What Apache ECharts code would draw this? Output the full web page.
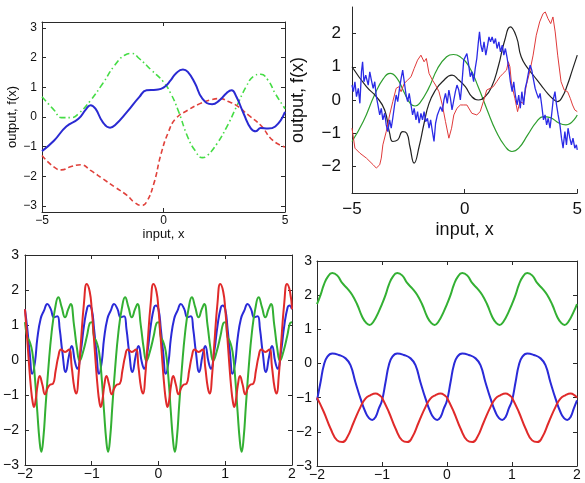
<!DOCTYPE html>
<html>
<head>
<meta charset="utf-8">
<title>GP samples</title>
<script src="https://cdn.jsdelivr.net/npm/echarts@6/dist/echarts.min.js"></script>
<style>
  html, body { margin: 0; padding: 0; background: #fff; }
  #main { width: 585px; height: 483px; }
</style>
</head>
<body>
<div id="main"></div>
<script>
// ---------- panel 1 (top left) ----------
var p1Ticks = [-3, -2, -1, 0, 1, 2, 3];
var p1BlueX = [-5,-4.5,-4,-3.5,-3.2,-3,-2.8,-2.5,-2.2,-2,-1.5,-1,-0.7,-0.3,0,0.3,0.5,0.8,1,1.3,1.6,2,2.3,2.6,2.8,3,3.3,3.6,3.8,4,4.3,4.6,5];
var p1BlueY = [-1.15,-0.79,-0.32,-0.06,0.25,0.4,0.28,-0.17,-0.36,-0.28,0.17,0.67,0.9,0.92,0.99,1.24,1.46,1.6,1.52,1.13,0.62,0.43,0.56,0.81,0.9,0.68,0.11,-0.39,-0.48,-0.37,-0.39,-0.32,0.17];
var p1GreenX = [-5,-4.5,-4.2,-3.8,-3.5,-3,-2.5,-2,-1.6,-1.3,-1,-0.5,0,0.3,0.6,1,1.3,1.6,1.8,2.2,2.6,3,3.4,3.7,4,4.3,4.6,5];
var p1GreenY = [0.68,0.23,-0.02,-0.02,0.11,0.56,1.13,1.75,2.08,2.14,1.97,1.58,1.18,0.79,0.23,-0.68,-1.13,-1.37,-1.3,-0.9,-0.34,0.34,1.02,1.37,1.44,1.24,0.79,0.28];
var p1RedX = [-5,-4.5,-4.2,-3.8,-3.4,-3,-2.5,-2,-1.5,-1.2,-0.9,-0.7,-0.4,-0.1,0.2,0.5,1,1.5,2,2.3,2.7,3,3.5,4,4.5,5];
var p1RedY = [-1.3,-1.69,-1.78,-1.67,-1.61,-1.8,-2.08,-2.36,-2.64,-2.87,-2.98,-2.87,-2.25,-1.24,-0.51,-0.06,0.23,0.45,0.59,0.62,0.51,0.39,0.06,-0.28,-0.79,-1.01];

// ---------- panel 2 (top right) ----------
var p2Ticks = [-2, -1, 0, 1, 2];
var p2GreenX = [-5,-4.5,-4,-3.6,-3.3,-3,-2.7,-2.4,-2.2,-2,-1.6,-1.2,-0.8,-0.5,-0.2,0.2,0.6,1,1.4,1.8,2.1,2.4,2.8,3.2,3.5,3.8,4.2,4.5,5];
var p2GreenY = [-1.25,-0.65,0.15,0.65,0.8,0.65,0.25,-0.12,-0.18,-0.1,0.35,0.95,1.3,1.37,1.3,1.0,0.4,-0.3,-0.95,-1.4,-1.55,-1.45,-1.05,-0.65,-0.5,-0.53,-0.7,-0.75,-0.45];
var p2BlackX = [-5,-4.36,-3.92,-3.55,-3.33,-3.19,-2.97,-2.75,-2.57,-2.43,-2.24,-2.02,-1.8,-1.58,-1.29,-0.99,-0.56,-0.26,0.03,0.32,0.61,0.91,1.2,1.49,1.78,2.03,2.3,2.51,2.81,3.1,3.39,3.68,3.98,4.12,4.34,4.56,4.78,5];
var p2BlackY = [1.0,0.4,0.1,-0.3,-1.0,-1.25,-1.2,-0.95,-1.0,-1.4,-1.9,-1.4,-0.7,-0.1,0.3,0.55,0.75,0.6,0.4,0.1,0.0,0.1,0.4,1.0,1.8,2.2,1.9,1.3,0.95,0.7,0.45,0.2,0.0,-0.05,0.1,0.45,0.9,1.35];
var p2RedX = [-5,-4.87,-4.65,-4.36,-4.06,-3.92,-3.77,-3.7,-3.63,-3.48,-3.33,-3.19,-3.04,-2.92,-2.82,-2.68,-2.53,-2.38,-2.24,-2.09,-1.94,-1.8,-1.7,-1.58,-1.43,-1.29,-1.14,-0.99,-0.85,-0.7,-0.58,-0.48,-0.34,-0.19,-0.04,0.1,0.32,0.54,0.69,0.83,0.98,1.13,1.27,1.42,1.57,1.71,1.86,1.94,2.01,2.08,2.23,2.35,2.45,2.6,2.74,2.89,3.04,3.18,3.33,3.48,3.58,3.7,3.82,3.92,4.02,4.13,4.28,4.42,4.57,4.69,4.79,4.89,5];
var p2RedY = [-0.85,-1.45,-1.6,-1.75,-1.95,-2.05,-1.95,-1.75,-1.35,-0.95,-0.45,-0.05,0.35,0.4,0.25,0.5,0.6,0.7,0.95,1.2,1.35,1.15,1.25,0.8,0.6,0.45,0.25,-0.15,-0.65,-1.15,-0.85,-0.45,-0.25,-0.15,-0.15,-0.15,-0.4,-0.45,-0.35,-0.05,0.3,0.35,0.4,0.55,0.7,0.8,0.9,1.15,1.0,0.5,0.05,-0.35,-0.05,-0.1,0.45,0.85,1.35,1.95,2.35,2.6,2.65,2.45,2.3,2.5,2.05,1.35,0.55,0.3,0.25,0.05,-0.15,-0.3,-0.35];
var p2BlueX = [-5,-4.94,-4.87,-4.8,-4.72,-4.65,-4.58,-4.53,-4.47,-4.39,-4.28,-4.21,-4.14,-4.06,-3.99,-3.92,-3.85,-3.77,-3.7,-3.63,-3.55,-3.48,-3.41,-3.33,-3.26,-3.19,-3.11,-3.04,-2.97,-2.89,-2.82,-2.75,-2.68,-2.6,-2.53,-2.46,-2.38,-2.31,-2.24,-2.16,-2.09,-2.02,-1.94,-1.87,-1.8,-1.73,-1.65,-1.58,-1.51,-1.43,-1.36,-1.29,-1.21,-1.14,-1.07,-0.99,-0.92,-0.85,-0.77,-0.7,-0.63,-0.56,-0.48,-0.41,-0.34,-0.26,-0.19,-0.12,-0.04,0.03,0.1,0.18,0.25,0.32,0.4,0.47,0.54,0.61,0.66,0.72,0.79,0.86,0.94,1.02,1.08,1.15,1.22,1.3,1.37,1.44,1.52,1.59,1.67,1.74,1.81,1.89,1.96,2.03,2.11,2.18,2.25,2.33,2.4,2.47,2.54,2.62,2.69,2.76,2.84,2.91,2.98,3.06,3.13,3.2,3.28,3.35,3.42,3.5,3.57,3.64,3.71,3.79,3.86,3.93,4.01,4.08,4.15,4.23,4.3,4.37,4.45,4.52,4.59,4.67,4.74,4.81,4.89,4.96,5];
var p2BlueY = [0.45,0.25,0.55,0.1,0.35,-0.1,0.85,1.15,0.55,0.75,0.45,0.85,0.6,0.35,0.55,0.1,-0.15,-0.45,-0.25,-0.6,-0.4,-0.75,-0.95,-0.6,-0.85,-0.55,-0.15,0.15,-0.05,0.35,0.65,0.9,0.55,0.15,-0.05,0.2,-0.15,-0.45,-0.25,-0.6,-0.35,-0.7,-0.4,-0.6,-0.35,-0.65,-0.55,-0.85,-0.6,-0.95,-1.25,-0.7,-0.45,-0.5,-0.2,-0.35,0.0,0.2,-0.1,0.3,0.05,-0.3,0.0,0.25,0.45,0.3,0.0,0.5,1.2,1.25,1.4,1.05,0.7,0.85,0.55,0.95,1.25,1.75,2.05,1.65,1.45,1.75,1.35,1.65,1.9,1.75,1.9,1.7,1.85,1.55,1.75,1.45,1.65,1.35,1.55,1.25,0.95,0.55,0.25,0.55,0.15,-0.15,0.15,-0.25,0.25,-0.15,0.35,0.55,0.85,1.05,0.9,0.6,0.35,0.2,0.05,0.2,-0.15,-0.6,-0.45,-0.75,-0.55,-0.85,-0.45,0.0,0.25,-0.15,-0.45,-0.75,-1.15,-1.45,-0.95,-1.35,-0.85,-1.15,-1.35,-1.15,-1.45,-1.35,-1.5];

// ---------- panel 3 (bottom left) ----------
var p3RedX = [-2,-1.97,-1.94,-1.91,-1.885,-1.865,-1.84,-1.81,-1.78,-1.74,-1.7,-1.66,-1.62,-1.58,-1.54,-1.5,-1.46,-1.4,-1.34,-1.3,-1.26,-1.23,-1.2,-1.165,-1.115,-1.075,-1.03,
  -1,-0.97,-0.94,-0.91,-0.885,-0.865,-0.84,-0.81,-0.78,-0.74,-0.7,-0.66,-0.62,-0.58,-0.54,-0.5,-0.46,-0.4,-0.34,-0.3,-0.26,-0.23,-0.2,-0.165,-0.115,-0.075,-0.03,
  0,0.03,0.06,0.09,0.115,0.135,0.16,0.19,0.22,0.26,0.3,0.34,0.38,0.42,0.46,0.5,0.54,0.6,0.66,0.7,0.74,0.77,0.8,0.835,0.885,0.925,0.97,
  1,1.03,1.06,1.09,1.115,1.135,1.16,1.19,1.22,1.26,1.3,1.34,1.38,1.42,1.46,1.5,1.54,1.6,1.66,1.7,1.74,1.77,1.8,1.835,1.885,1.925,1.97,2];
var p3RedY = [1.45,0.7,-0.1,-0.8,-1.2,-1.34,-1.15,-0.7,-0.46,-0.7,-0.98,-0.8,-0.7,-0.68,-0.3,0.1,0.3,0.23,0.3,-0.2,-0.8,-0.96,-0.5,0.42,1.65,2.17,1.95,
  1.45,0.7,-0.1,-0.8,-1.2,-1.34,-1.15,-0.7,-0.46,-0.7,-0.98,-0.8,-0.7,-0.68,-0.3,0.1,0.3,0.23,0.3,-0.2,-0.8,-0.96,-0.5,0.42,1.65,2.17,1.95,
  1.45,0.7,-0.1,-0.8,-1.2,-1.34,-1.15,-0.7,-0.46,-0.7,-0.98,-0.8,-0.7,-0.68,-0.3,0.1,0.3,0.23,0.3,-0.2,-0.8,-0.96,-0.5,0.42,1.65,2.17,1.95,
  1.45,0.7,-0.1,-0.8,-1.2,-1.34,-1.15,-0.7,-0.46,-0.7,-0.98,-0.8,-0.7,-0.68,-0.3,0.1,0.3,0.23,0.3,-0.2,-0.8,-0.96,-0.5,0.42,1.65,2.17,1.95,1.45];
var p3BlueX = [-2,-1.965,-1.93,-1.89,-1.85,-1.815,-1.765,-1.715,-1.665,-1.615,-1.565,-1.515,-1.48,-1.44,-1.39,-1.34,-1.3,-1.25,-1.215,-1.165,-1.115,-1.065,-1.04,
  -1,-0.965,-0.93,-0.89,-0.85,-0.815,-0.765,-0.715,-0.665,-0.615,-0.565,-0.515,-0.48,-0.44,-0.39,-0.34,-0.3,-0.25,-0.215,-0.165,-0.115,-0.065,-0.04,
  0,0.035,0.07,0.11,0.15,0.185,0.235,0.285,0.335,0.385,0.435,0.485,0.52,0.56,0.61,0.66,0.7,0.75,0.785,0.835,0.885,0.935,0.96,
  1,1.035,1.07,1.11,1.15,1.185,1.235,1.285,1.335,1.385,1.435,1.485,1.52,1.56,1.61,1.66,1.7,1.75,1.785,1.835,1.885,1.935,1.96,2];
var p3BlueY = [1.45,0.89,0.23,-0.39,-0.06,0.61,1.18,1.41,1.6,1.46,1.22,1.25,0.89,0.23,-0.34,0.13,0.4,-0.06,-0.25,0.23,0.99,1.51,1.56,
  1.45,0.89,0.23,-0.39,-0.06,0.61,1.18,1.41,1.6,1.46,1.22,1.25,0.89,0.23,-0.34,0.13,0.4,-0.06,-0.25,0.23,0.99,1.51,1.56,
  1.45,0.89,0.23,-0.39,-0.06,0.61,1.18,1.41,1.6,1.46,1.22,1.25,0.89,0.23,-0.34,0.13,0.4,-0.06,-0.25,0.23,0.99,1.51,1.56,
  1.45,0.89,0.23,-0.39,-0.06,0.61,1.18,1.41,1.6,1.46,1.22,1.25,0.89,0.23,-0.34,0.13,0.4,-0.06,-0.25,0.23,0.99,1.51,1.56,1.45];
var p3GreenX = [-2,-1.965,-1.93,-1.89,-1.85,-1.815,-1.78,-1.755,-1.725,-1.69,-1.65,-1.6,-1.55,-1.5,-1.45,-1.4,-1.35,-1.315,-1.265,-1.22,-1.18,-1.13,-1.07,-1.03,
  -1,-0.965,-0.93,-0.89,-0.85,-0.815,-0.78,-0.755,-0.725,-0.69,-0.65,-0.6,-0.55,-0.5,-0.45,-0.4,-0.35,-0.315,-0.265,-0.22,-0.18,-0.13,-0.07,-0.03,
  0,0.035,0.07,0.11,0.15,0.185,0.22,0.245,0.275,0.31,0.35,0.4,0.45,0.5,0.55,0.6,0.65,0.685,0.735,0.78,0.82,0.87,0.93,0.97,
  1,1.035,1.07,1.11,1.15,1.185,1.22,1.245,1.275,1.31,1.35,1.4,1.45,1.5,1.55,1.6,1.65,1.685,1.735,1.78,1.82,1.87,1.93,1.97,2];
var p3GreenY = [1.08,0.66,0.53,0.23,-0.53,-1.48,-2.34,-2.62,-2.24,-1.29,-0.25,0.8,1.46,1.79,1.51,1.22,1.46,1.6,0.99,0.32,-0.02,0.23,0.7,1.05,
  1.08,0.66,0.53,0.23,-0.53,-1.48,-2.34,-2.62,-2.24,-1.29,-0.25,0.8,1.46,1.79,1.51,1.22,1.46,1.6,0.99,0.32,-0.02,0.23,0.7,1.05,
  1.08,0.66,0.53,0.23,-0.53,-1.48,-2.34,-2.62,-2.24,-1.29,-0.25,0.8,1.46,1.79,1.51,1.22,1.46,1.6,0.99,0.32,-0.02,0.23,0.7,1.05,
  1.08,0.66,0.53,0.23,-0.53,-1.48,-2.34,-2.62,-2.24,-1.29,-0.25,0.8,1.46,1.79,1.51,1.22,1.46,1.6,0.99,0.32,-0.02,0.23,0.7,1.05,1.08];

// ---------- panel 4 (bottom right) ----------
var p4GreenX = [-2,-1.945,-1.895,-1.84,-1.765,-1.69,-1.61,-1.535,-1.46,-1.38,-1.305,-1.24,-1.19,-1.13,-1.05,
  -1,-0.945,-0.895,-0.84,-0.765,-0.69,-0.61,-0.535,-0.46,-0.38,-0.305,-0.24,-0.19,-0.13,-0.05,
  0,0.055,0.105,0.16,0.235,0.31,0.39,0.465,0.54,0.62,0.695,0.76,0.81,0.87,0.95,
  1,1.055,1.105,1.16,1.235,1.31,1.39,1.465,1.54,1.62,1.695,1.76,1.81,1.87,1.95,2];
var p4GreenY = [1.74,2.01,2.3,2.52,2.65,2.58,2.35,2.2,2.01,1.72,1.37,1.18,1.13,1.23,1.52,
  1.74,2.01,2.3,2.52,2.65,2.58,2.35,2.2,2.01,1.72,1.37,1.18,1.13,1.23,1.52,
  1.74,2.01,2.3,2.52,2.65,2.58,2.35,2.2,2.01,1.72,1.37,1.18,1.13,1.23,1.52,
  1.74,2.01,2.3,2.52,2.65,2.58,2.35,2.2,2.01,1.72,1.37,1.18,1.13,1.23,1.52,1.74];
var p4BlueX = [-2,-1.945,-1.895,-1.84,-1.765,-1.665,-1.56,-1.485,-1.41,-1.33,-1.255,-1.2,-1.15,-1.1,-1.05,
  -1,-0.945,-0.895,-0.84,-0.765,-0.665,-0.56,-0.485,-0.41,-0.33,-0.255,-0.2,-0.15,-0.1,-0.05,
  0,0.055,0.105,0.16,0.235,0.335,0.44,0.515,0.59,0.67,0.745,0.8,0.85,0.9,0.95,
  1,1.055,1.105,1.16,1.235,1.335,1.44,1.515,1.59,1.67,1.745,1.8,1.85,1.9,1.95,2];
var p4BlueY = [-1.08,-0.54,-0.05,0.2,0.29,0.25,0.15,-0.05,-0.54,-1.03,-1.42,-1.6,-1.65,-1.57,-1.32,
  -1.08,-0.54,-0.05,0.2,0.29,0.25,0.15,-0.05,-0.54,-1.03,-1.42,-1.6,-1.65,-1.57,-1.32,
  -1.08,-0.54,-0.05,0.2,0.29,0.25,0.15,-0.05,-0.54,-1.03,-1.42,-1.6,-1.65,-1.57,-1.32,
  -1.08,-0.54,-0.05,0.2,0.29,0.25,0.15,-0.05,-0.54,-1.03,-1.42,-1.6,-1.65,-1.57,-1.32,-1.08];
var p4RedX = [-2,-1.895,-1.79,-1.69,-1.61,-1.535,-1.435,-1.33,-1.255,-1.18,-1.1,-1.025,
  -1,-0.895,-0.79,-0.69,-0.61,-0.535,-0.435,-0.33,-0.255,-0.18,-0.1,-0.025,
  0,0.105,0.21,0.31,0.39,0.465,0.565,0.67,0.745,0.82,0.9,0.975,
  1,1.105,1.21,1.31,1.39,1.465,1.565,1.67,1.745,1.82,1.9,1.975,2];
var p4RedY = [-1.0,-1.42,-1.91,-2.25,-2.3,-2.16,-1.72,-1.27,-1.03,-0.93,-0.88,-0.95,
  -1.0,-1.42,-1.91,-2.25,-2.3,-2.16,-1.72,-1.27,-1.03,-0.93,-0.88,-0.95,
  -1.0,-1.42,-1.91,-2.25,-2.3,-2.16,-1.72,-1.27,-1.03,-0.93,-0.88,-0.95,
  -1.0,-1.42,-1.91,-2.25,-2.3,-2.16,-1.72,-1.27,-1.03,-0.93,-0.88,-0.95,-1.0];

var FONT = 'Liberation Sans, Arial, Helvetica, sans-serif';
var AX = '#2a2a2a';

function pts(xs, ys) {
    return xs.map(function (x, i) { return [x, ys[i]]; });
}
function minus(v) {
    return String(v).replace('-', '\u2212');
}

// one axis; labels only on the bottom / left one
function axis(gi, pos, min, max, interval, ticks, font, margin) {
    var a = {
        gridIndex: gi, type: 'value', position: pos, min: min, max: max,
        axisLine: { show: true, onZero: false, lineStyle: { color: AX, width: 1 } },
        axisTick: { show: true, inside: true, length: 4, lineStyle: { color: AX } },
        axisLabel: { show: !!font, fontSize: font || 12, color: '#111', fontFamily: FONT, margin: margin || 4, formatter: minus },
        splitLine: { show: false }
    };
    if (interval) a.interval = interval;
    if (ticks) {
        a.axisTick.customValues = ticks;
        a.axisLabel.customValues = ticks;
    }
    return a;
}

function line(xi, yi, xs, ys, color, width, type, smooth) {
    return {
        type: 'line', xAxisIndex: xi, yAxisIndex: yi, data: pts(xs, ys),
        showSymbol: false, smooth: smooth, animation: false,
        lineStyle: { color: color, width: width, type: type || 'solid' }
    };
}

var xAxes = [], yAxes = [];

// panel 1
var x1 = axis(0, 'bottom', -5, 5, 5, null, 12, 3);
x1.name = 'input, x'; x1.nameLocation = 'middle'; x1.nameGap = 15;
x1.nameTextStyle = { fontSize: 13, color: '#111', fontFamily: FONT };
var y1 = axis(0, 'left', -3.2, 3.2, null, p1Ticks, 12, 5);
y1.name = 'output, f(x)'; y1.nameLocation = 'middle'; y1.nameGap = 20;
y1.nameTextStyle = { fontSize: 13, color: '#111', fontFamily: FONT };
xAxes.push(x1, axis(0, 'top', -5, 5, 5, null, 0));
yAxes.push(y1, axis(0, 'right', -3.2, 3.2, null, p1Ticks, 0));

// panel 2 (only left and bottom lines)
var x2 = axis(1, 'bottom', -5, 5, 5, null, 17, 8);
x2.name = 'input, x'; x2.nameLocation = 'middle'; x2.nameGap = 28;
x2.nameTextStyle = { fontSize: 18, color: '#111', fontFamily: FONT };
var y2 = axis(1, 'left', -2.8, 2.8, null, p2Ticks, 17, 11);
y2.name = 'output, f(x)'; y2.nameLocation = 'middle'; y2.nameGap = 45;
y2.nameTextStyle = { fontSize: 18, color: '#111', fontFamily: FONT };
xAxes.push(x2);
yAxes.push(y2);

// panel 3
xAxes.push(axis(2, 'bottom', -2, 2, 1, null, 14, 2), axis(2, 'top', -2, 2, 1, null, 0));
yAxes.push(axis(2, 'left', -3, 3, 1, null, 14, 6), axis(2, 'right', -3, 3, 1, null, 0));

// panel 4
xAxes.push(axis(3, 'bottom', -2, 2, 1, null, 14, 2), axis(3, 'top', -2, 2, 1, null, 0));
yAxes.push(axis(3, 'left', -3, 3, 1, null, 14, 5), axis(3, 'right', -3, 3, 1, null, 0));

var option = {
    animation: false,
    backgroundColor: '#fff',
    grid: [
        { left: 42, top: 22, width: 243, height: 190 },
        { left: 352, top: 7, width: 228, height: 186 },
        { left: 23, top: 255, width: 269, height: 210 },
        { left: 317, top: 261, width: 260, height: 205 }
    ],
    xAxis: xAxes,
    yAxis: yAxes,
    series: [
        line(0, 0, p1RedX, p1RedY, '#e0413b', 1.6, [5, 3], 0.5),
        line(0, 0, p1GreenX, p1GreenY, '#45dc45', 1.6, [6, 3, 1.5, 3], 0.5),
        line(0, 0, p1BlueX, p1BlueY, '#2a2ad2', 2, 'solid', 0.5),

        line(2, 2, p2GreenX, p2GreenY, '#2e9e2e', 1.2, 'solid', 0.5),
        line(2, 2, p2BlackX, p2BlackY, '#222222', 1.2, 'solid', 0.5),
        line(2, 2, p2RedX, p2RedY, '#e03a3a', 1, 'solid', false),
        line(2, 2, p2BlueX, p2BlueY, '#2a2ae6', 1.3, 'solid', false),

        line(3, 3, p3BlueX, p3BlueY, '#2a2ad8', 2, 'solid', 0.5),
        line(3, 3, p3GreenX, p3GreenY, '#33b033', 2, 'solid', 0.5),
        line(3, 3, p3RedX, p3RedY, '#e02a2a', 2, 'solid', 0.5),

        line(5, 5, p4GreenX, p4GreenY, '#33b033', 2, 'solid', 0.5),
        line(5, 5, p4BlueX, p4BlueY, '#2a2ad8', 2, 'solid', 0.5),
        line(5, 5, p4RedX, p4RedY, '#e02a2a', 2, 'solid', 0.5)
    ]
};

var chart = echarts.init(document.getElementById('main'));
chart.setOption(option);
</script>
</body>
</html>
